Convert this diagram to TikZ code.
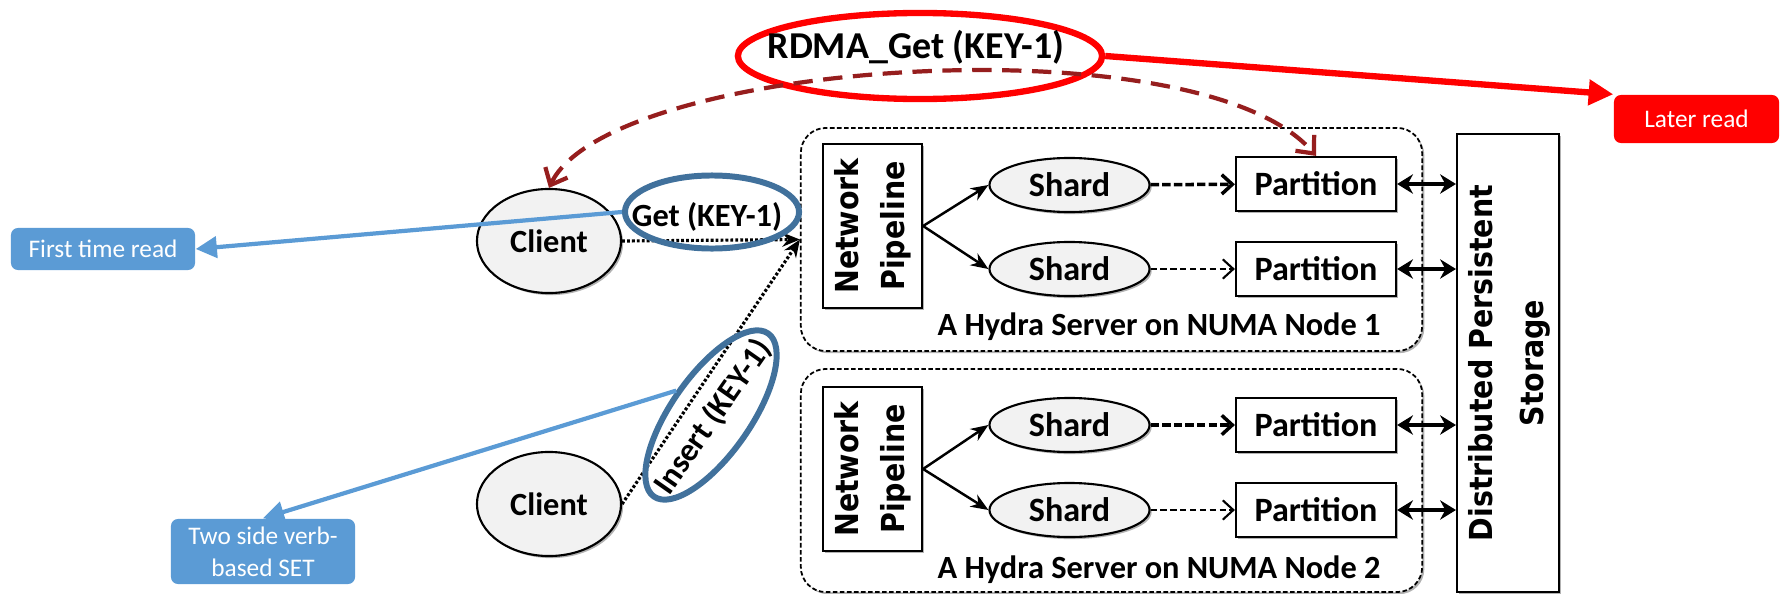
\documentclass[tikz,border=0pt]{standalone}
\usepackage{fontspec}
\setmainfont{Carlito}
\newfontfamily\vfont{DejaVu Sans Condensed}[BoldFont={DejaVu Sans Condensed Bold}]
\usepackage{graphicx}
\usepackage{tikz}
\usetikzlibrary{shapes.geometric,arrows.meta,shadows}
\definecolor{markred}{RGB}{255,0,0}
\definecolor{arcred}{RGB}{150,30,30}
\definecolor{ringblue}{RGB}{65,113,156}
\definecolor{tagblue}{RGB}{91,155,213}
\definecolor{nodegray}{RGB}{242,242,242}

\begin{document}
\begin{tikzpicture}[x=0.01cm,y=-0.01cm,
  font=\bfseries\fontsize{9.2}{11}\selectfont,
  sh/.style={drop shadow={shadow xshift=0.6pt,shadow yshift=-0.6pt,opacity=0.3,fill=black}},
  oval/.style={ellipse,draw,fill=nodegray,line width=0.6pt,inner sep=0pt,sh},
  box/.style={rectangle,draw,fill=white,line width=0.6pt,inner sep=0pt,sh},
  server/.style={rectangle,draw,fill=white,rounded corners=0.25cm,dash pattern=on 1.3pt off 0.7pt,line width=0.5pt,sh},
  ring/.style={ellipse,draw,inner sep=0pt},
  tag/.style={rectangle,rounded corners=2pt,inner sep=0pt,align=center,text=white,font=\mdseries\fontsize{7.2}{9}\selectfont},
  vtext/.style={font=\vfont\bfseries\fontsize{9}{#1}\selectfont},
  big/.style={font=\bfseries\fontsize{9.7}{11}\selectfont},
  thickdash/.style={line width=1pt,dash pattern=on 2.4pt off 0.9pt,-{Straight Barb[length=3pt,width=5.5pt]}},
  thindash/.style={line width=0.6pt,dash pattern=on 1.8pt off 1pt,-{Straight Barb[length=3pt,width=5.5pt]}},
  dotline/.style={line width=0.9pt,dash pattern=on 0.8pt off 0.6pt,-{Stealth[length=5pt,width=4pt]}},
  fork/.style={line width=0.7pt,-{Stealth[length=5pt,width=4pt]}},
  store/.style={line width=1.1pt,{Stealth[length=4.5pt,width=5.5pt]}-{Stealth[length=4.5pt,width=5.5pt]}}]
\useasboundingbox (0,0) rectangle (1782,594);

\node[server,minimum width=6.21cm,minimum height=2.23cm] (srv1) at (1111.5,239.5) {};
\node[server,minimum width=6.21cm,minimum height=2.23cm] (srv2) at (1111.5,480.5) {};
\node[box,minimum width=0.98cm,minimum height=4.58cm,vtext=14.5pt] (storage) at (1508,363)
  {\rotatebox{90}{\begin{tabular}{@{}c@{}}Distributed Persistent\\Storage\end{tabular}}};

\node[box,minimum width=0.99cm,minimum height=1.64cm,vtext=13pt] (pipe1) at (872.5,226)
  {\rotatebox{90}{\begin{tabular}{@{}c@{}}Network\\Pipeline\end{tabular}}};
\node[box,minimum width=0.99cm,minimum height=1.64cm,vtext=13pt] (pipe2) at (872.5,469)
  {\rotatebox{90}{\begin{tabular}{@{}c@{}}Network\\Pipeline\end{tabular}}};

\node[oval,big,minimum width=1.6cm,minimum height=0.54cm] (shard1a) at (1069.5,185) {Shard};
\node[oval,big,minimum width=1.6cm,minimum height=0.54cm] (shard1b) at (1069.5,269) {Shard};
\node[oval,big,minimum width=1.6cm,minimum height=0.54cm] (shard2a) at (1069.5,425) {Shard};
\node[oval,big,minimum width=1.6cm,minimum height=0.54cm] (shard2b) at (1069.5,510) {Shard};

\node[box,big,minimum width=1.6cm,minimum height=0.54cm] (part1a) at (1316,184) {Partition};
\node[box,big,minimum width=1.6cm,minimum height=0.54cm] (part1b) at (1316,269) {Partition};
\node[box,big,minimum width=1.6cm,minimum height=0.54cm] (part2a) at (1316,425) {Partition};
\node[box,big,minimum width=1.6cm,minimum height=0.54cm] (part2b) at (1316,510) {Partition};

\node[anchor=east] (numa1) at (1393,327) {A Hydra Server on NUMA Node 1};
\node[anchor=east] (numa2) at (1393,570) {A Hydra Server on NUMA Node 2};

\draw[fork] (pipe1.east) -- (shard1a.west);
\draw[fork] (pipe1.east) -- (shard1b.west);
\draw[fork] (pipe2.east) -- (shard2a.west);
\draw[fork] (pipe2.east) -- (shard2b.west);

\draw[thickdash] (shard1a) -- (part1a);
\draw[thindash] (shard1b) -- (part1b);
\draw[thickdash] (shard2a) -- (part2a);
\draw[thindash] (shard2b) -- (part2b);

\draw[store] (part1a.east) -- (part1a -| storage.west);
\draw[store] (part1b.east) -- (part1b -| storage.west);
\draw[store] (part2a.east) -- (part2a -| storage.west);
\draw[store] (part2b.east) -- (part2b -| storage.west);

\node[oval,minimum width=1.44cm,minimum height=1.04cm] (client1) at (549,241) {Client};
\node[oval,minimum width=1.44cm,minimum height=1.04cm] (client2) at (549,504) {Client};

\draw[dotline] (client1.east) -- (srv1.west);
\draw[dotline] (client2.east) -- (srv1.west);

\node[ring,ringblue,line width=1.7pt,minimum width=1.74cm,minimum height=0.73cm] (getring) at (712,212) {};
\node (gettxt) at (707,217) {Get (KEY-1)};
\node[ring,ringblue,line width=1.7pt,minimum width=1.99cm,minimum height=0.79cm,rotate=55] (insring) at (711,415) {};
\node[rotate=55] (instxt) at (713,417) {Insert (KEY-1)};

\node[ring,markred,line width=1.8pt,minimum width=3.64cm,minimum height=0.86cm] (rdmaring) at (920,56) {};
\node[font=\bfseries\fontsize{10.8}{13}\selectfont] (rdmatxt) at (916,47) {RDMA\_Get (KEY-1)};

\draw[arcred,line width=1.2pt,dash pattern=on 5.5pt off 3pt,
  {Straight Barb[length=4pt,width=7pt]}-{Straight Barb[length=4pt,width=7pt]}]
  (client1.north) .. controls (610,60) and (1200,20) .. (part1a.north);

\node[tag,fill=markred,minimum width=1.65cm,minimum height=0.48cm] (later) at (1696.5,119) {Later read};
\draw[markred,line width=1.8pt,-{Triangle[length=7pt,width=7pt]}] (rdmaring.east) -- (later.north west);

\node[tag,fill=tagblue,minimum width=1.84cm,minimum height=0.42cm] (firstread) at (103,249) {First time read};
\node[tag,fill=tagblue,minimum width=1.84cm,minimum height=0.65cm] (twoside) at (263,551.5) {Two side verb-\\based SET};
\draw[tagblue,line width=1.2pt,-{Triangle[length=6pt,width=6pt]}] (getring.west) -- (firstread.east);
\draw[tagblue,line width=1.2pt,-{Triangle[length=6pt,width=6pt]}] (insring.north) -- (twoside.north);
\end{tikzpicture}
\end{document}
